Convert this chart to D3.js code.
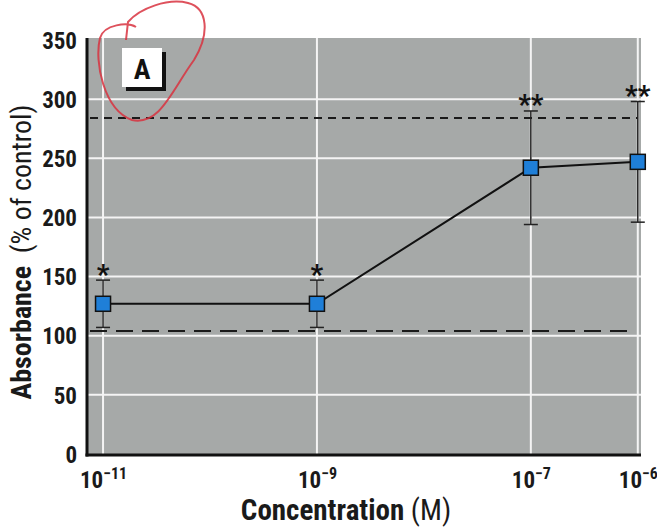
<!DOCTYPE html>
<html>
<head>
<meta charset="utf-8">
<script src="https://cdn.jsdelivr.net/npm/d3@7"></script>
<style>
  html, body { margin: 0; padding: 0; background: #fff; }
  svg { display: block; }
  text { font-family: "Liberation Sans Narrow", "Roboto Condensed", "Arial Narrow", "Liberation Sans", sans-serif; }
</style>
</head>
<body>
<svg id="chart" width="657" height="528"></svg>
<script>
// Concentration (M) as log10 exponents, with mean absorbance and error
const exponents = [-11, -9, -7, -6];
const means = [127, 127, 242, 247];
const errors = [20, 20, 48, 51];
const stars = ["*", "*", "**", "**"];
const yTicks = [0, 50, 100, 150, 200, 250, 300, 350];
const xTickExponents = [-11, -9, -7, -6];
const upperRef = 284;   // short-dash reference level
const lowerRef = 104;   // long-dash reference level

const svg = d3.select("#chart");
const plot = { left: 87, right: 641, top: 38, bottom: 455 };

const x = d3.scaleLog()
  .domain([Math.pow(10, -11.15), Math.pow(10, -5.97)])
  .range([plot.left, plot.right]);
const y = d3.scaleLinear().domain([0, 350]).range([454, 40]);

// gray panel
svg.append("rect")
  .attr("x", plot.left).attr("y", plot.top)
  .attr("width", plot.right - plot.left).attr("height", plot.bottom - plot.top)
  .attr("fill", "#a6a9a8");

// white grid lines
svg.append("g").selectAll("line.h").data(yTicks.filter(d => d > 0 && d < 350)).join("line")
  .attr("x1", plot.left).attr("x2", plot.right)
  .attr("y1", d => y(d)).attr("y2", d => y(d))
  .attr("stroke", "#f4f4f4").attr("stroke-width", 2);
svg.append("g").selectAll("line.v").data(xTickExponents).join("line")
  .attr("x1", d => x(Math.pow(10, d))).attr("x2", d => x(Math.pow(10, d)))
  .attr("y1", plot.top).attr("y2", plot.bottom)
  .attr("stroke", "#f4f4f4").attr("stroke-width", 2);

// reference dashed lines
svg.append("line")
  .attr("x1", plot.left + 3).attr("x2", plot.right - 3)
  .attr("y1", y(upperRef)).attr("y2", y(upperRef))
  .attr("stroke", "#1a1a1a").attr("stroke-width", 2)
  .attr("stroke-dasharray", "8,6");
svg.append("line")
  .attr("x1", plot.left + 3).attr("x2", plot.right - 8)
  .attr("y1", y(lowerRef)).attr("y2", y(lowerRef))
  .attr("stroke", "#1a1a1a").attr("stroke-width", 2)
  .attr("stroke-dasharray", "17,9");

// axes
const yAxis = d3.axisLeft(y).tickValues(yTicks).tickSize(0).tickPadding(10);
const gy = svg.append("g").attr("transform", `translate(${plot.left},0)`).call(yAxis);
gy.select(".domain").remove();
gy.selectAll("text")
  .attr("font-size", 23).attr("font-weight", "bold").attr("fill", "#1a1a1a")
  .attr("dy", "0.36em");

const xAxis = d3.axisBottom(x)
  .tickValues(xTickExponents.map(e => Math.pow(10, e)))
  .tickSize(0).tickFormat("");
const gx = svg.append("g").attr("transform", `translate(0,${plot.bottom})`).call(xAxis);
gx.select(".domain").remove();
gx.selectAll(".tick").each(function(d) {
  const e = Math.round(Math.log10(d));
  const t = d3.select(this).append("text")
    .attr("y", 33).attr("fill", "#1a1a1a")
    .attr("font-size", 23).attr("font-weight", "bold")
    .attr("text-anchor", "middle");
  t.append("tspan").text("10");
  t.append("tspan").attr("dy", -9).attr("font-size", 16).text("\u2212" + Math.abs(e));
});

// axis lines
svg.append("line").attr("x1", plot.left).attr("x2", plot.left)
  .attr("y1", plot.top).attr("y2", plot.bottom + 1.5)
  .attr("stroke", "#111").attr("stroke-width", 3);
svg.append("line").attr("x1", plot.left - 1.5).attr("x2", plot.right)
  .attr("y1", plot.bottom).attr("y2", plot.bottom)
  .attr("stroke", "#111").attr("stroke-width", 3);

// data
const data = exponents.map((e, i) => ({ c: Math.pow(10, e), m: means[i], e: errors[i], s: stars[i] }));

const eb = svg.append("g").attr("stroke", "#222").attr("stroke-width", 1.5);
data.forEach(d => {
  const cx = x(d.c);
  eb.append("line").attr("x1", cx).attr("x2", cx).attr("y1", y(d.m + d.e)).attr("y2", y(d.m - d.e));
  eb.append("line").attr("x1", cx - 7).attr("x2", cx + 7).attr("y1", y(d.m + d.e)).attr("y2", y(d.m + d.e));
  eb.append("line").attr("x1", cx - 7).attr("x2", cx + 7).attr("y1", y(d.m - d.e)).attr("y2", y(d.m - d.e));
});

svg.append("path")
  .datum(data)
  .attr("d", d3.line().x(d => x(d.c)).y(d => y(d.m)))
  .attr("fill", "none").attr("stroke", "#111").attr("stroke-width", 2);

svg.append("g").selectAll("rect").data(data).join("rect")
  .attr("x", d => x(d.c) - 7.5).attr("y", d => y(d.m) - 7.5)
  .attr("width", 15).attr("height", 15)
  .attr("fill", "#1f7fd8").attr("stroke", "#111").attr("stroke-width", 1.5);

svg.append("g").selectAll("text").data(data).join("text")
  .attr("x", d => x(d.c)).attr("y", d => y(d.m + d.e) - 12)
  .attr("text-anchor", "middle")
  .attr("font-size", 28).attr("font-weight", "bold").attr("fill", "#111")
  .attr("dy", "0.55em")
  .text(d => d.s);

// panel label
svg.append("rect").attr("x", 126).attr("y", 52).attr("width", 40).attr("height", 39).attr("fill", "#111");
svg.append("rect").attr("x", 122).attr("y", 48).attr("width", 40).attr("height", 39).attr("fill", "#fff");
svg.append("text").attr("x", 142).attr("y", 79).attr("text-anchor", "middle")
  .attr("font-size", 28).attr("font-weight", "bold").attr("fill", "#111").text("A");

// hand-drawn red circle around the panel label
svg.append("path")
  .attr("d", "M136,27 C128,22 104,24 100,38 C94,62 104,110 132,120 C160,126 172,90 194,60 C210,34 208,8 188,3 C168,-2 140,8 128,22 L126,40")
  .attr("fill", "none").attr("stroke", "#d8323f").attr("stroke-width", 2).attr("opacity", 0.85);

// axis titles
const yt = svg.append("text")
  .attr("transform", "translate(31,252) rotate(-90)")
  .attr("text-anchor", "middle").attr("fill", "#1a1a1a").attr("font-size", 28);
yt.append("tspan").attr("font-weight", "bold").text("Absorbance");
yt.append("tspan").text("\u2002(% of control)");

const xt = svg.append("text")
  .attr("x", 346).attr("y", 520)
  .attr("text-anchor", "middle").attr("fill", "#1a1a1a").attr("font-size", 29);
xt.append("tspan").attr("font-weight", "bold").text("Concentration");
xt.append("tspan").text(" (M)");
</script>
</body>
</html>
